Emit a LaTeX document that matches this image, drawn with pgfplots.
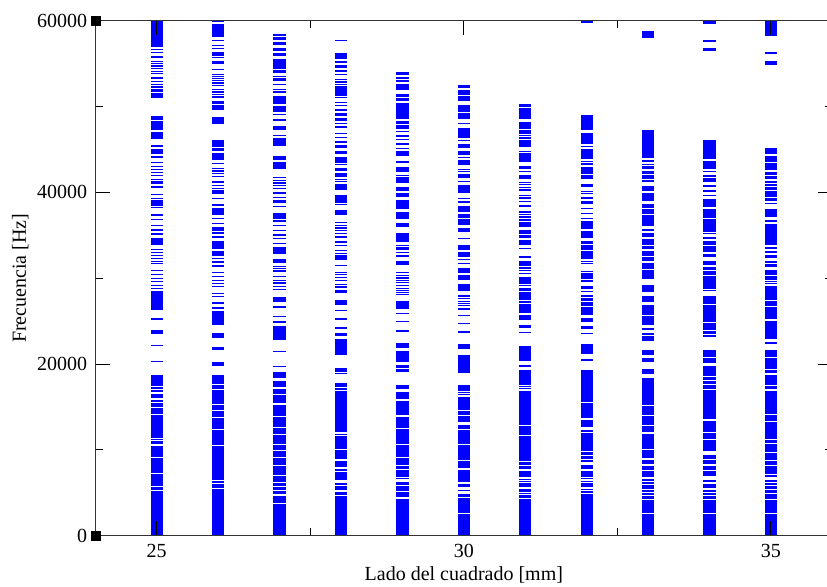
\documentclass[border=0pt]{standalone}
\usepackage{fontspec}
\setmainfont{Liberation Serif}
\usepackage{pgfplots}
\usepackage{pgfplotstable}
\pgfplotsset{compat=1.18}
\pgfplotstableread{
x lo hi
25 56970 60000
25 56700 56700
25 56316 56316
25 55804 55804
25 55303 55303
25 55035 55035
25 54755 54755
25 54452 54452
25 54138 54138
25 53870 53870
25 53357 53357
25 52973 52973
25 52588 52588
25 52309 52309
25 52041 52041
25 51843 51843
25 51074 51540
25 48511 48895
25 47345 48313
25 46251 46949
25 45435 45435
25 44468 45016
25 44154 44154
25 43536 43536
25 43070 43070
25 42720 42720
25 42371 42371
25 41987 41987
25 41556 41556
25 40973 41241
25 40659 40659
25 39808 39808
25 39307 39307
25 39028 39028
25 38795 38795
25 38562 38562
25 38259 38259
25 37397 37397
25 36861 36861
25 36197 36197
25 35649 35649
25 35183 35183
25 33948 34647
25 33366 33366
25 33051 33051
25 32702 32702
25 32317 32317
25 32003 32003
25 31735 31735
25 30919 30919
25 30488 30488
25 29987 29987
25 29673 29673
25 29207 29207
25 28822 28822
25 28123 28426
25 27960 27960
25 26294 27844
25 25281 25281
25 23580 23964
25 22182 22182
25 20353 20353
25 17440 18640
25 17207 17289
25 16776 16974
25 16124 16508
25 15576 15809
25 15029 15425
25 14260 14796
25 11464 14062
25 11149 11266
25 10718 10951
25 9169 10450
25 8202 8971
25 7969 8039
25 7771 7852
25 7305 7573
25 5790 7188
25 5324 5592
25 0 5173
26 59846 60000
26 58134 59613
26 57749 57749
26 57167 57167
26 56782 56782
26 55920 56316
26 55734 55734
26 54953 55221
26 54371 54371
26 53788 53788
26 53555 53555
26 53287 53287
26 53054 53054
26 52775 52775
26 52507 52507
26 52006 52006
26 51726 51726
26 51458 51458
26 51144 51144
26 50561 50561
26 50375 50375
26 49594 50142
26 47963 48744
26 45319 46018
26 44853 45132
26 43851 44550
26 43385 43385
26 42802 42802
26 42523 42523
26 42220 42220
26 41905 41905
26 41241 41241
26 40857 40857
26 40472 40472
26 40193 40193
26 39960 39960
26 39307 39307
26 38410 38643
26 37362 38142
26 36977 36977
26 36395 36395
26 35533 35929
26 35300 35300
26 34834 34834
26 33482 34251
26 32585 33086
26 32317 32317
26 31921 31921
26 31455 31455
26 30721 30721
26 30220 30220
26 29754 29754
26 29405 29405
26 29090 29090
26 28240 28240
26 27925 27925
26 27145 27145
26 26562 26562
26 24628 26096
26 23114 23580
26 21634 21902
26 19852 20155
26 17673 18722
26 17090 17557
26 16800 16893
26 15891 16741
26 15343 15728
26 14644 15192
26 13829 14446
26 12512 13631
26 11114 12314
26 10567 10951
26 6524 10415
26 6175 6291
26 5639 6023
26 5289 5359
26 0 5126
27 58215 58448
27 57749 58064
27 57167 57435
27 56503 56782
27 55885 56200
27 54452 55536
27 53940 54173
27 53555 53555
27 53008 53241
27 52623 52623
27 52006 52006
27 51726 51726
27 51144 51144
27 50911 50911
27 50678 50678
27 50445 50445
27 49979 49979
27 49746 49746
27 49513 49513
27 49128 49128
27 48348 48511
27 47264 47730
27 46682 46682
27 45400 46297
27 43769 44154
27 42802 43455
27 41754 41754
27 41439 41439
27 41125 41125
27 40822 40822
27 40472 40472
27 39960 39960
27 39424 39424
27 38795 39028
27 38410 38410
27 36977 37560
27 36698 36698
27 36162 36162
27 35614 35614
27 35067 35067
27 34647 34647
27 34065 34065
27 32818 33599
27 31805 32201
27 31420 31420
27 31152 31152
27 30873 30873
27 30255 30255
27 29789 29789
27 29475 29475
27 29090 29090
27 28706 28706
27 27308 27774
27 26679 26679
27 25595 25595
27 24931 24931
27 22799 24430
27 21518 21518
27 19770 19770
27 18454 18990
27 17359 17941
27 16776 17090
27 16508 16660
27 15495 16392
27 13945 15227
27 12699 13794
27 11930 12512
27 10683 11732
27 9984 10485
27 9204 9786
27 8621 9017
27 8237 8505
27 7573 8039
27 7072 7456
27 6571 6955
27 6291 6489
27 5790 6105
27 5406 5639
27 4858 5126
27 3810 4625
27 0 3658
28 57714 57714
28 55536 56153
28 55221 55221
28 54522 54755
28 54056 54219
28 53788 53788
28 53206 53206
28 52891 52891
28 52623 52623
28 51225 52390
28 51109 51109
28 50491 50491
28 50177 50177
28 49478 49711
28 48930 49210
28 48313 48627
28 48045 48045
28 47649 47649
28 46880 46880
28 46414 46414
28 45750 45983
28 45435 45435
28 45284 45284
28 44503 44736
28 44037 44037
28 43804 43804
28 43571 43571
28 43268 43268
28 42488 42802
28 41870 42173
28 41521 41521
28 41323 41323
28 40274 40973
28 39692 39692
28 38841 39494
28 38608 38608
28 37362 37944
28 36511 36511
28 36197 36197
28 35882 35882
28 35614 35614
28 35230 35230
28 34834 34834
28 34100 34333
28 33867 33867
28 33284 33284
28 32900 32900
28 32620 32620
28 32387 32387
28 32236 32236
28 31537 31537
28 30686 30686
28 30453 30453
28 30139 30139
28 29789 29789
28 29288 29288
28 29009 29009
28 28624 28624
28 28426 28426
28 26877 27459
28 26259 26259
28 25129 25327
28 24232 24232
28 23300 23580
28 21052 22881
28 19106 19502
28 18920 18920
28 17359 17755
28 16974 17172
28 12116 16858
28 11813 11813
28 10182 11534
28 9984 9984
28 9017 9786
28 8004 8703
28 7771 7771
28 7654 7654
28 6687 7340
28 6571 6571
28 5907 6105
28 5324 5790
28 4742 5056
28 0 4544
29 53672 53986
29 53206 53439
29 52891 53054
29 51924 52588
29 51144 51423
29 50724 50957
29 48627 50375
29 48045 48313
29 47462 47765
29 47148 47148
29 46484 46682
29 46216 46216
29 45668 45668
29 45132 45132
29 44270 44736
29 43420 43653
29 42406 42954
29 42022 42022
29 41707 41707
29 41474 41474
29 41241 41241
29 40158 40542
29 39494 39925
29 38142 39109
29 36977 37676
29 36045 36348
29 34251 35230
29 33867 33867
29 33284 33552
29 33016 33016
29 32620 32620
29 31537 32003
29 30686 30686
29 30372 30372
29 30057 30057
29 29789 29789
29 29521 29521
29 29207 29207
29 28822 28822
29 28624 28624
29 28356 28356
29 28123 28123
29 26492 27261
29 25910 25910
29 25013 25013
29 23883 23883
29 21902 22415
29 20271 21518
29 19572 19887
29 19106 19421
29 17090 17557
29 16007 16706
29 14062 15693
29 12582 13747
29 10765 12431
29 9204 10485
29 8237 9017
29 7852 8120
29 7386 7654
29 6874 7223
29 6687 6687
29 5907 6221
29 5208 5709
29 4544 5056
29 0 4276
30 52192 52507
30 51540 51924
30 51423 51423
30 50643 51144
30 49396 50095
30 48546 49210
30 48045 48045
30 46367 47462
30 46099 46099
30 45202 45598
30 44352 44736
30 44119 44119
30 43187 43688
30 42721 42721
30 42488 42488
30 41707 42103
30 41323 41323
30 40775 40775
30 40542 40542
30 40309 40309
30 40076 40076
30 39307 39307
30 38911 38911
30 37746 38410
30 37047 37443
30 36197 36814
30 35416 35812
30 34647 34647
30 33284 33867
30 32504 33016
30 32236 32236
30 31735 31735
30 30686 31152
30 30290 30290
30 29789 30174
30 28508 29288
30 27960 27960
30 27657 27657
30 27343 27343
30 27075 27075
30 26877 26877
30 26294 26492
30 25712 25712
30 24745 24745
30 23766 23766
30 21832 22298
30 19036 21052
30 16858 17557
30 16706 16706
30 16473 16473
30 14644 16077
30 14062 14446
30 13281 13864
30 12512 12897
30 10765 12314
30 8819 10485
30 7922 8621
30 6291 7654
30 5709 6023
30 5324 5324
30 4544 4858
30 2726 4357
30 0 2493
31 49979 50258
31 49396 49792
31 48546 49280
31 47462 48161
31 46880 47264
31 46682 46682
31 46367 46367
31 45831 46099
31 45319 45715
31 44818 44818
31 43571 44550
31 42721 42989
31 42488 42488
31 41940 41940
31 41707 41707
31 41171 41171
31 40938 40938
31 40624 40624
31 40309 40309
31 39692 39692
31 39377 39377
31 38993 38993
31 38445 38445
31 37746 37746
31 37443 37443
31 37164 37164
31 36663 36896
31 35999 36511
31 35230 35614
31 34717 34950
31 33867 34449
31 33482 33482
31 32504 32504
31 31455 32003
31 31222 31222
31 30954 30954
31 30570 30570
31 29405 30057
31 29207 29207
31 28508 28822
31 27459 28356
31 27261 27261
31 26026 26958
31 25211 25712
31 24279 24465
31 23696 23696
31 20353 22019
31 19689 19887
31 17638 19304
31 17440 17440
31 17172 17172
31 16776 16776
31 14842 16590
31 13864 14726
31 12897 13747
31 11732 12699
31 10951 11534
31 8703 10881
31 8237 8551
31 7771 8039
31 6874 7538
31 6606 6606
31 6373 6373
31 5674 6058
31 5126 5441
31 4940 4940
31 4427 4742
31 2726 4276
31 0 2563
32 59811 60000
32 48313 49012
32 47264 48231
32 45715 46880
32 45400 45400
32 43967 45016
32 43653 43653
32 43338 43338
32 42220 42872
32 41556 42022
32 40624 40938
32 40158 40158
32 39890 39890
32 39226 39459
32 38911 38911
32 38725 38725
32 38142 38142
32 37560 37560
32 36977 36977
32 35812 36581
32 34717 35498
32 34018 34333
32 33284 33785
32 32317 33086
32 32003 32003
32 31735 31735
32 30838 30838
32 29987 30570
32 29591 29789
32 28822 29009
32 28508 28508
32 27960 27960
32 27343 27657
32 26795 27191
32 25712 26644
32 24931 25327
32 24162 24349
32 23580 23580
32 21250 22298
32 20388 20586
32 18722 19304
32 16590 18640
32 15611 16473
32 13747 15425
32 12699 13479
32 12116 12314
32 10369 11930
32 9868 10252
32 9402 9716
32 9017 9204
32 8621 8819
32 7771 8237
32 6874 7538
32 6687 6687
32 6373 6373
32 5674 6105
32 5441 5441
32 5126 5126
32 2726 4823
32 0 2563
33 58530 58798
33 58017 58413
33 45901 47264
33 45202 45785
33 44037 45132
33 43571 43769
33 43268 43268
33 42721 42989
33 42220 42488
33 41637 41940
33 41241 41439
33 40158 40659
33 38993 39890
33 38212 38608
33 37513 38061
33 36395 37362
33 36115 36278
33 35498 35731
33 34834 35230
33 33948 34566
33 33401 33669
33 32620 33086
33 32003 32387
33 31071 31735
33 30453 30954
33 29987 30290
33 28426 29207
33 27261 27844
33 25712 26877
33 24628 25514
33 23964 24162
33 23382 23580
33 22683 23184
33 21052 21634
33 20271 20667
33 19188 19421
33 18873 19106
33 15308 18337
33 14062 15110
33 12897 13945
33 12116 12699
33 10182 11813
33 9087 9984
33 8388 8784
33 7654 8039
33 6874 7538
33 6373 6606
33 6058 6221
33 5522 5907
33 5126 5324
33 4742 4940
33 4276 4625
33 2726 4159
33 0 2493
34 59695 59963
34 57551 57749
34 56549 56782
34 44736 46099
34 43886 44620
34 43385 43571
34 42721 43268
34 42488 42488
34 41824 42022
34 41241 41637
34 40659 40857
34 40076 40274
34 39692 39692
34 38841 39191
34 38329 38725
34 37047 38061
34 35416 36896
34 35230 35230
34 34566 34717
34 33867 34251
34 33086 33669
34 32504 32783
34 31537 32003
34 30954 31304
34 30453 30756
34 28741 30174
34 28624 28624
34 27075 27844
34 25793 26795
34 24931 25630
34 23964 24745
34 23580 23848
34 23149 23382
34 20854 21634
34 20201 20667
34 18640 19689
34 18139 18407
34 17755 18023
34 17090 17557
34 14260 16974
34 13677 14143
34 12699 13281
34 12116 12582
34 11347 11930
34 10567 11149
34 9868 10485
34 9017 9402
34 8435 8819
34 7654 8039
34 6990 7538
34 6291 6489
34 5592 5988
34 5126 5324
34 4742 4940
34 4276 4625
34 2726 4159
34 0 2493
35 58250 60000
35 56118 56316
35 54837 55221
35 44550 45132
35 43571 44154
35 42604 43385
35 42103 42336
35 41556 41824
35 41241 41241
35 40775 40938
35 40274 40542
35 39494 40076
35 38993 39307
35 38725 38725
35 37164 38061
35 36581 36779
35 33867 36278
35 33401 33552
35 33016 33168
35 32387 32702
35 31851 32003
35 31339 31618
35 30453 30954
35 29789 30174
35 29673 29673
35 29440 29440
35 27459 29009
35 26795 27261
35 25246 26562
35 22997 25013
35 22368 22531
35 20854 21634
35 19421 20667
35 19036 19304
35 17871 18722
35 17557 17755
35 17090 17359
35 16473 16858
35 14260 16310
35 13444 13980
35 11813 13165
35 11266 11732
35 10881 11114
35 9786 10648
35 8819 9600
35 8318 8621
35 7270 8039
35 6874 7072
35 6291 6489
35 5907 6105
35 5441 5709
35 5056 5243
35 4276 4823
35 2726 4159
35 0 2493
}\modes

\begin{document}
\begin{tikzpicture}
\begin{axis}[
  scale only axis, width=737.1bp, height=515bp,
  xmin=24, xmax=36, ymin=0, ymax=60000,
  scaled x ticks=false, scaled y ticks=false,
  xtick={25,30,35}, xticklabels={25,30,35},
  minor xtick={27.5,32.5},
  ytick={0,20000,40000,60000}, yticklabels={0,20000,40000,60000},
  minor ytick={10000,30000,50000},
  tick align=inside,
  major tick length=14.7bp, minor tick length=7.3bp,
  every tick/.style={black, line width=1bp},
  axis line style={black!80, line width=1.2bp},
  axis on top,
  font=\fontsize{20bp}{24bp}\selectfont,
  xticklabel style={anchor=base, yshift=-22.3bp, inner sep=0pt},
  yticklabel style={anchor=east, xshift=-8bp, inner sep=0pt},
  xlabel={Lado del cuadrado [mm]},
  ylabel={Frecuencia [Hz]},
  every axis x label/.style={at={([yshift=-44.5bp]rel axis cs:0.5,0)}, anchor=base},
  every axis y label/.style={at={([xshift=-75bp]rel axis cs:0,0.5)}, anchor=center, rotate=90},
]
\addplot[draw=none, mark=none, forget plot,
  error bars/.cd, y dir=both, y explicit, error mark=none,
  error bar style={draw=blue, line width=12.3bp}]
  table[x=x, y expr={(\thisrow{lo}+\thisrow{hi})/2}, y error expr={(\thisrow{hi}-\thisrow{lo})/2+45}] {\modes};
\addplot[only marks, mark=square*, mark size=4.5bp, black, forget plot]
  coordinates {(24,0) (24,60000)};
\coordinate (LL) at (rel axis cs:0,0);
\coordinate (UR) at (rel axis cs:1,1);
\end{axis}
\pgfresetboundingbox
\path[use as bounding box] ([xshift=-95.3bp,yshift=-51.3bp]LL) rectangle ([xshift=-5.4bp,yshift=20.7bp]UR);
\end{tikzpicture}
\end{document}
